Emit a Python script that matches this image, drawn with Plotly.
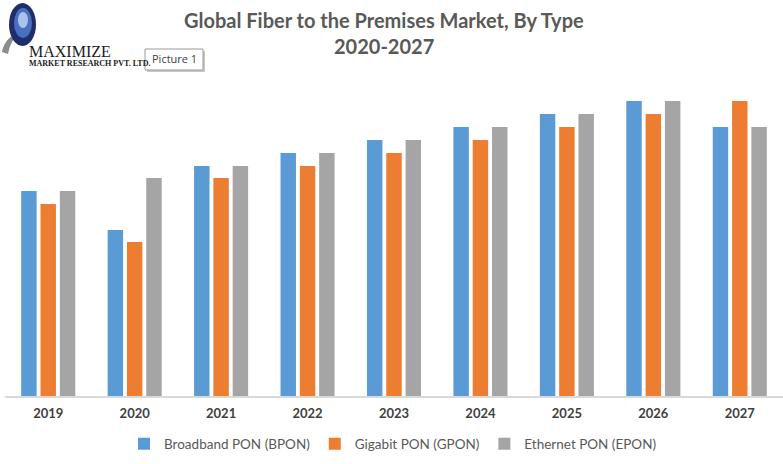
import plotly.graph_objects as go

years = ["2019", "2020", "2021", "2022", "2023", "2024", "2025", "2026", "2027"]
bpon = [205, 166, 230, 243, 256, 269, 282, 295, 269]
gpon = [192, 154, 218, 230, 243, 256, 269, 282, 295]
epon = [205, 218, 230, 243, 256, 269, 282, 295, 269]
series_names = ["Broadband PON (BPON)", "Gigabit PON (GPON)", "Ethernet PON (EPON)"]
colors = ["#5B9BD5", "#ED7D31", "#A5A5A5"]

W, H = 783, 464
L, R, T, B = 5, 0, 76, 68
PW, PH = W - L - R, H - T - B


def px(x):
    return (x - L) / PW


def py(y):
    return (H - B - y) / PH


fig = go.Figure()
for name, vals, c in zip(series_names, [bpon, gpon, epon], colors):
    fig.add_trace(go.Bar(x=years, y=vals, name=name, marker=dict(color=c, line=dict(width=0))))

font_main = "Lato, Calibri, 'Open Sans', sans-serif"

annotations = [
    dict(text="<b>Global Fiber to the Premises Market, By Type</b>", x=px(384), y=py(20),
         xref="paper", yref="paper", showarrow=False, xanchor="center", yanchor="middle",
         font=dict(family=font_main, size=20, color="#595959")),
    dict(text="<b>2020-2027</b>", x=px(384), y=py(46),
         xref="paper", yref="paper", showarrow=False, xanchor="center", yanchor="middle",
         font=dict(family=font_main, size=20, color="#595959")),
    dict(text="MAXIMIZE", x=px(27), y=py(51), xref="paper", yref="paper", showarrow=False,
         xanchor="left", yanchor="middle",
         font=dict(family="'Liberation Serif', serif", size=16, color="#1a1a1a")),
    dict(text="<b>MARKET RESEARCH PVT. LTD.</b>", x=px(27), y=py(63), xref="paper", yref="paper",
         showarrow=False, xanchor="left", yanchor="middle",
         font=dict(family="'Liberation Serif', serif", size=8, color="#1a1a1a")),
    dict(text="Picture 1", x=px(174), y=py(59), xref="paper", yref="paper", showarrow=False,
         xanchor="center", yanchor="middle",
         font=dict(family="'Open Sans', sans-serif", size=11, color="#404040")),
]

shapes = [
    # globe swoosh
    dict(type="path", xref="paper", yref="paper",
         path=f"M {px(2)} {py(52)} Q {px(4)} {py(38)} {px(22)} {py(30)} Q {px(10)} {py(40)} {px(8)} {py(54)} Z",
         fillcolor="#8c8c8c", line=dict(width=0)),
    dict(type="circle", xref="paper", yref="paper", x0=px(9), x1=px(36), y0=py(46), y1=py(3),
         fillcolor="#1f2d6b", line=dict(width=0)),
    dict(type="circle", xref="paper", yref="paper", x0=px(14), x1=px(32), y0=py(38), y1=py(8),
         fillcolor="#4a6fc0", line=dict(width=0)),
    dict(type="circle", xref="paper", yref="paper", x0=px(18), x1=px(28), y0=py(28), y1=py(12),
         fillcolor="#a9c3ea", line=dict(width=0)),
    # Picture 1 box shadow and box
    dict(type="rect", xref="paper", yref="paper", x0=px(147), x1=px(205), y0=py(72), y1=py(51),
         fillcolor="#c8c8c8", line=dict(width=0)),
    dict(type="rect", xref="paper", yref="paper", x0=px(145), x1=px(203), y0=py(70), y1=py(49),
         fillcolor="white", line=dict(color="#9a9a9a", width=1)),
]

fig.update_layout(
    width=W, height=H,
    margin=dict(l=L, r=R, t=T, b=B, pad=0),
    paper_bgcolor="white", plot_bgcolor="white",
    barmode="group", bargap=0.33, bargroupgap=0.2,
    showlegend=True,
    legend=dict(orientation="h", x=px(393), y=py(444), xanchor="center", yanchor="middle",
                font=dict(family=font_main, size=13.5, color="#595959"),
                itemwidth=30, tracegroupgap=0, bgcolor="rgba(0,0,0,0)"),
    xaxis=dict(type="category", range=[-0.5, 8.5], showline=True, linecolor="#D9D9D9", linewidth=1.5,
               showgrid=False, ticks="", zeroline=False, ticklabelstandoff=5,
               tickfont=dict(family=font_main, size=13, color="#404040"),
               tickprefix="<b>", ticksuffix="</b>"),
    yaxis=dict(range=[0, PH], visible=False, showgrid=False, zeroline=False),
    annotations=annotations,
    shapes=shapes,
)

fig.write_html("out.html", config={"displayModeBar": False},
               post_script="document.body.style.margin='0px';")
